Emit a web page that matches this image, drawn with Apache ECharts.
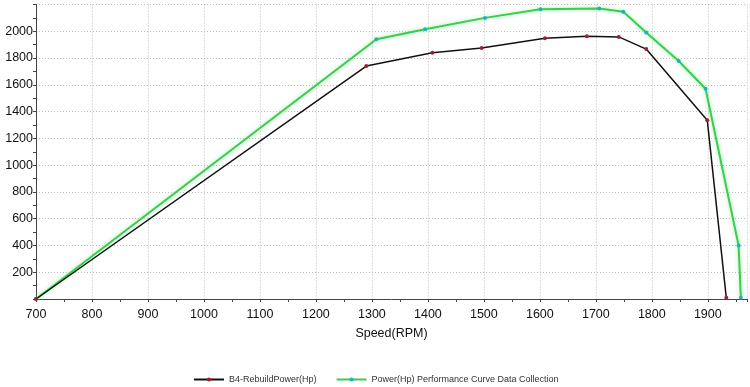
<!DOCTYPE html>
<html>
<head>
<meta charset="utf-8">
<script src="https://cdn.jsdelivr.net/npm/echarts@6/dist/echarts.min.js"></script>
<style>
html,body{margin:0;padding:0;background:#fff;}
#main{width:750px;height:387px;}
</style>
</head>
<body>
<div id="main"></div>
<script>
var seriesNames = ['B4-RebuildPower(Hp)', 'Power(Hp) Performance Curve Data Collection'];
var rpmB4 = [700, 1290, 1408, 1496, 1609, 1684, 1741, 1790, 1899, 1933];
var powerB4 = [0, 1740, 1840, 1875, 1948, 1963, 1958, 1867, 1336, 10];
var rpmPerf = [700, 1308, 1395, 1502, 1601, 1706, 1749, 1790, 1848, 1896, 1955, 1959];
var powerPerf = [0, 1940, 2015, 2100, 2165, 2170, 2145, 1990, 1778, 1571, 400, 10];
var xAxisName = 'Speed(RPM)';

function pairs(xs, ys) { return xs.map(function (x, i) { return [x, ys[i]]; }); }

var font = 'Liberation Sans, Arial, sans-serif';
var chart = echarts.init(document.getElementById('main'), null, {renderer: 'canvas'});
chart.setOption({
  animation: false,
  backgroundColor: '#fff',
  grid: {left: 36, right: 2, top: 4.5, bottom: 88, containLabel: false},
  xAxis: {
    type: 'value', min: 700, max: 1970, interval: 100,
    name: xAxisName, nameLocation: 'middle', nameGap: 28,
    nameTextStyle: {fontFamily: font, fontSize: 12.5, color: '#111'},
    axisLine: {show: true, lineStyle: {color: '#444', width: 1}},
    axisTick: {show: true, length: 3, lineStyle: {color: '#444'}},
    minorTick: {show: true, splitNumber: 2, length: 3, lineStyle: {color: '#444'}},
    axisLabel: {fontFamily: font, fontSize: 12.5, color: '#111', margin: 9,
      formatter: function (v) { return v % 100 === 0 ? String(v) : ''; }},
    splitLine: {show: true, lineStyle: {color: '#bdbdbd', type: [1, 2], width: 1}}
  },
  yAxis: {
    type: 'value', min: 0, max: 2200, interval: 200,
    axisLine: {show: true, lineStyle: {color: '#444', width: 1}},
    axisTick: {show: true, length: 3, lineStyle: {color: '#444'}},
    minorTick: {show: true, splitNumber: 2, length: 3, lineStyle: {color: '#444'}},
    axisLabel: {fontFamily: font, fontSize: 12.5, color: '#111', margin: 3,
      showMinLabel: false, showMaxLabel: false,
      formatter: function (v) { return String(v); }},
    splitLine: {show: true, lineStyle: {color: '#bdbdbd', type: [1, 2], width: 1}}
  },
  legend: {
    left: 188, top: 370, itemWidth: 30, itemHeight: 5, itemGap: 19,
    textStyle: {fontFamily: font, fontSize: 9, color: '#333'},
    data: seriesNames
  },
  series: [
    {
      name: seriesNames[0], type: 'line', data: pairs(rpmB4, powerB4),
      symbol: 'circle', symbolSize: 4, showAllSymbol: true,
      itemStyle: {color: '#a02030'},
      lineStyle: {color: '#111', width: 1.5},
      z: 3
    },
    {
      name: seriesNames[1], type: 'line', data: pairs(rpmPerf, powerPerf),
      symbol: 'circle', symbolSize: 4, showAllSymbol: true,
      itemStyle: {color: '#20b0c0'},
      lineStyle: {color: '#3ccb4e', width: 2, shadowColor: 'rgba(140,240,160,0.9)', shadowBlur: 4},
      z: 2
    }
  ]
});
</script>
</body>
</html>
